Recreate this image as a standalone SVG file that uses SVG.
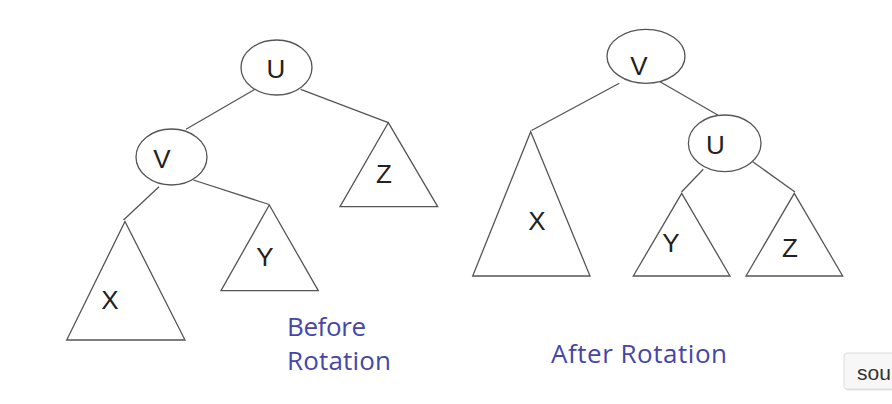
<svg xmlns="http://www.w3.org/2000/svg" width="892" height="404" viewBox="0 0 892 404">
<style>
.shape{fill:none;stroke:#555;stroke-width:1.3}
.node{fill:#fff;stroke:#555;stroke-width:1.3}
.lbl{font-family:"Liberation Sans",Arial,sans-serif;font-size:26px;fill:#222;text-anchor:middle}
.cap{font-family:"Open Sans","Liberation Sans",Arial,sans-serif;font-size:26px;fill:#4646a6}
</style>
<rect x="0" y="0" width="892" height="404" fill="#fff"/>
<g id="connectors">
<line class="shape" x1="255" y1="89.3" x2="186" y2="129.3"/>
<line class="shape" x1="300.7" y1="89.3" x2="388.3" y2="122.7"/>
<line class="shape" x1="159" y1="186.7" x2="123.5" y2="220"/>
<line class="shape" x1="193.3" y1="180" x2="269.3" y2="204.5"/>
<line class="shape" x1="619.3" y1="83.3" x2="531.5" y2="130.5"/>
<line class="shape" x1="660" y1="81.7" x2="717.7" y2="115"/>
<line class="shape" x1="703.3" y1="169.3" x2="681.5" y2="192"/>
<line class="shape" x1="752.7" y1="161.7" x2="795" y2="192"/>
</g>
<g id="before-U">
<ellipse class="node" cx="276.5" cy="67.5" rx="35.5" ry="27.5"/>
<text class="lbl" x="276" y="78">U</text>
</g>
<g id="before-V">
<ellipse class="node" cx="171.5" cy="157" rx="35.5" ry="28"/>
<text class="lbl" x="162" y="168">V</text>
</g>
<g id="before-Z">
<polygon class="shape" points="388.3,122.7 437.7,206.7 340,206.7"/>
<text class="lbl" x="384" y="183">Z</text>
</g>
<g id="before-X">
<polygon class="shape" points="125,221.5 185,340 66.7,340"/>
<text class="lbl" x="110" y="309">X</text>
</g>
<g id="before-Y">
<polygon class="shape" points="269.3,205 318.3,290.7 221,290.7"/>
<text class="lbl" x="265" y="266">Y</text>
</g>
<g id="after-V">
<ellipse class="node" cx="646" cy="56.3" rx="39" ry="27"/>
<text class="lbl" x="639" y="75">V</text>
</g>
<g id="after-X">
<polygon class="shape" points="530.7,131.7 590,276 472.7,276"/>
<text class="lbl" x="537" y="230">X</text>
</g>
<g id="after-U">
<ellipse class="node" cx="724.7" cy="143.3" rx="36.3" ry="28.3"/>
<text class="lbl" x="715.5" y="154">U</text>
</g>
<g id="after-Y">
<polygon class="shape" points="681.7,193.3 730,276 633.3,276"/>
<text class="lbl" x="671" y="251.5">Y</text>
</g>
<g id="after-Z">
<polygon class="shape" points="794.3,193.3 842.7,276 746,276"/>
<text class="lbl" x="790" y="257">Z</text>
</g>
<g id="captions">
<text class="cap" x="287" y="336" textLength="79">Before</text>
<text class="cap" x="287" y="370" textLength="104">Rotation</text>
<text class="cap" x="551" y="363" textLength="176">After Rotation</text>
</g>
<g id="source-button">
<rect x="845" y="354.5" width="60" height="36" rx="3" fill="#e4e4e4"/>
<rect x="844" y="353" width="60" height="36" rx="3" fill="#f7f7f7" stroke="#dedede" stroke-width="1"/>
<text x="857" y="380" font-family="Liberation Sans, Arial, sans-serif" font-size="21" fill="#333">sou</text>
</g>
</svg>
